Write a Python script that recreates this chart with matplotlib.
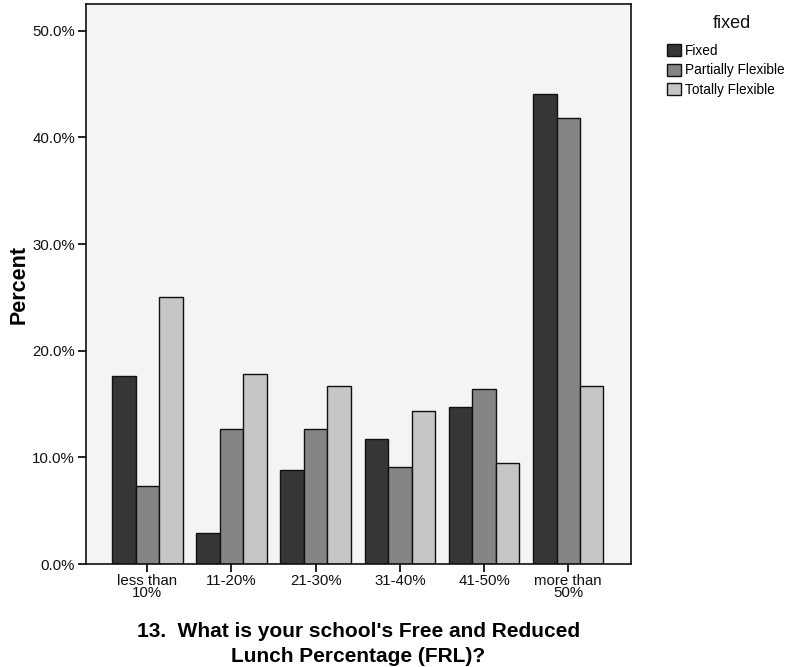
import matplotlib
matplotlib.use("Agg")
import matplotlib.pyplot as plt
import numpy as np
from matplotlib.ticker import FuncFormatter
from matplotlib.patches import Patch

categories = ["less than\n10%", "11-20%", "21-30%", "31-40%", "41-50%", "more than\n50%"]
series_names = ["Fixed", "Partially Flexible", "Totally Flexible"]
fixed = [17.6, 2.9, 8.8, 11.7, 14.7, 44.1]
partial = [7.3, 12.7, 12.7, 9.1, 16.4, 41.8]
totally = [25.0, 17.8, 16.7, 14.3, 9.5, 16.7]
colors = ["#363636", "#858585", "#c6c6c6"]

plt.rcParams['font.family'] = ['Liberation Sans', 'DejaVu Sans']

fig = plt.figure(figsize=(7.97, 6.67), dpi=100)
ax = fig.add_axes([0.1079, 0.1544, 0.6838, 0.8396])
ax.set_facecolor("#f4f4f4")

x = np.arange(len(categories))
w = 0.279
for i, (vals, c, name) in enumerate(zip([fixed, partial, totally], colors, series_names)):
    ax.bar(x + (i - 1) * w, vals, width=w, color=c, edgecolor="#111111", linewidth=1.0, label=name)

ax.set_xlim(-0.728, 5.745)
ax.set_ylim(0, 52.5)
ax.set_yticks([0, 10, 20, 30, 40, 50])
ax.yaxis.set_major_formatter(FuncFormatter(lambda v, p: f"{v:.1f}%"))
ax.set_xticks(x)
ax.set_xticklabels(categories, linespacing=0.85)
ax.tick_params(axis='both', direction='out', length=6, width=1.3, labelsize=10.8, colors="#111111")
ax.tick_params(axis='x', pad=1)
ax.tick_params(axis='y', pad=2)
for s in ax.spines.values():
    s.set_linewidth(1.2)
    s.set_color("#111111")

ax.set_ylabel("Percent", fontsize=15.5, fontweight='bold', labelpad=2)
ax.set_xlabel("13.  What is your school's Free and Reduced\nLunch Percentage (FRL)?",
              fontsize=15, fontweight='bold', linespacing=1.35, labelpad=16)

fig.text(732 / 797, 1 - 23.5 / 667, "fixed", fontsize=13, ha='center', va='center', color="#111111")
handles = [Patch(facecolor=c, edgecolor="#111111", linewidth=1.0) for c in colors]
leg = fig.legend(handles, series_names, loc='upper left',
                 bbox_to_anchor=(667 / 797, 1 - 44 / 667), frameon=False, fontsize=9.8,
                 handlelength=1.0, handleheight=1.0,
                 handletextpad=0.35, labelspacing=0.4, borderaxespad=0, borderpad=0)

fig.savefig("out.png", dpi=100, facecolor="white")
